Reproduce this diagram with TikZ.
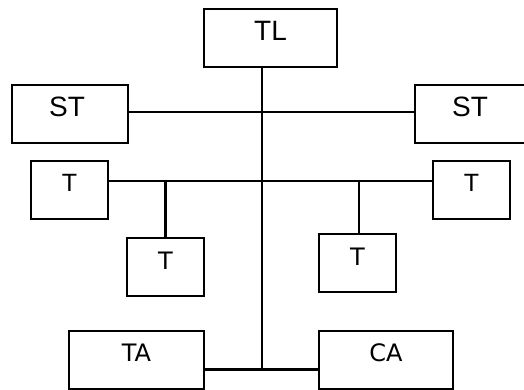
\documentclass[tikz,border=0pt]{standalone}
\usepackage{fontspec}
\setmainfont{Liberation Sans}
\newfontfamily\dvs{DejaVu Sans}
\begin{document}
\begin{tikzpicture}[x=1pt,y=-1pt,line width=2.5pt,
  box/.style={draw, rectangle, inner sep=0pt, minimum height=58pt},
  big/.style={font=\fontsize{28}{30}\selectfont, inner sep=0pt},
  mid/.style={font=\fontsize{25}{27}\selectfont, inner sep=0pt},
  dv/.style={font=\dvs\fontsize{24}{26}\selectfont, inner sep=0pt}]
\useasboundingbox (0,0) rectangle (524,390);
% boxes
\node[box, minimum width=133pt, label={[big,yshift=7.5pt]center:TL}] (tl) at (270.5,38) {};
\node[box, minimum width=116pt, label={[big,xshift=-3pt,yshift=7pt]center:ST}] (stl) at (70,114) {};
\node[box, minimum width=116pt, label={[big,xshift=-3pt,yshift=7pt]center:ST}] (str) at (473,114) {};
\node[box, minimum width=77pt, label={[mid,yshift=7pt]center:T}] (t1) at (69.5,190) {};
\node[box, minimum width=77pt, label={[mid,yshift=7pt]center:T}] (t2) at (471.5,190) {};
\node[box, minimum width=77pt, label={[dv,yshift=6.5pt]center:T}] (t3) at (165.5,267) {};
\node[box, minimum width=77pt, label={[dv,yshift=6pt]center:T}] (t4) at (357.5,263) {};
\node[box, minimum width=135pt, label={[dv,yshift=7pt]center:TA}] (ta) at (136.5,360) {};
\node[box, minimum width=134pt, label={[dv,yshift=7pt]center:CA}] (ca) at (386,360) {};
% junctions
\coordinate (j1) at (262,112);
\coordinate (j2) at (262,181);
\coordinate (j3) at (262,369.5);
\coordinate (b1) at (165.5,181);
\coordinate (b2) at (359,181);
% connectors
\draw (tl.south -| j1) -- (j3);
\draw (stl.east |- j1) -- (str.west |- j1);
\draw (t1.east |- j2) -- (t2.west |- j2);
\draw (b1) -- (t3.north -| b1);
\draw (b2) -- (t4.north -| b2);
\draw (ta.east |- j3) -- (ca.west |- j3);
\end{tikzpicture}
\end{document}
